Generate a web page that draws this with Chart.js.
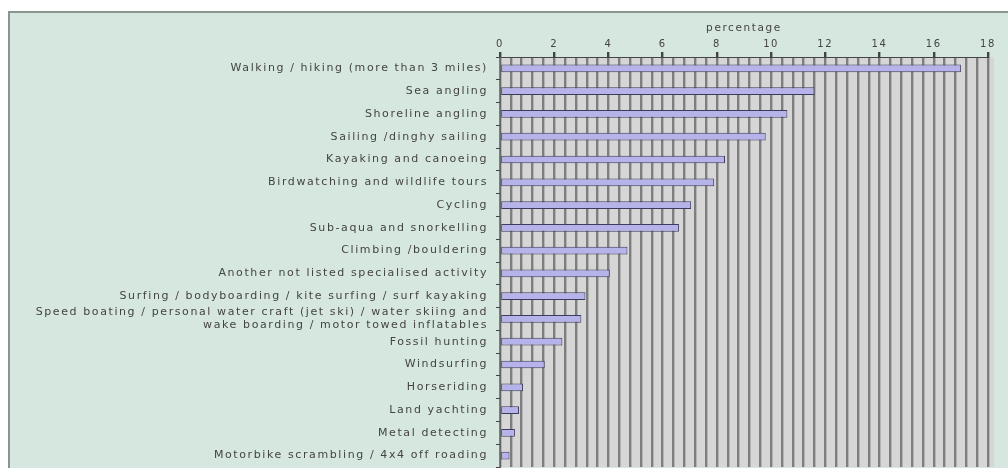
<!DOCTYPE html>
<html><head><meta charset="utf-8">
<script src="https://cdn.jsdelivr.net/npm/chart.js@4/dist/chart.umd.min.js"></script>
<style>
html,body{margin:0;padding:0;background:#fff;}
#wrap{position:absolute;left:0;top:0;width:1008px;height:468px;}
</style></head>
<body><div id="wrap"><canvas id="c" width="1008" height="468"></canvas></div>
<script>
const categories = [
  "Walking / hiking (more than 3 miles)",
  "Sea angling",
  "Shoreline angling",
  "Sailing /dinghy sailing",
  "Kayaking and canoeing",
  "Birdwatching and wildlife tours",
  "Cycling",
  "Sub-aqua and snorkelling",
  "Climbing /bouldering",
  "Another not listed specialised activity",
  "Surfing / bodyboarding / kite surfing / surf kayaking",
  ["Speed boating / personal water craft (jet ski) / water skiing and", "wake boarding / motor towed inflatables"],
  "Fossil hunting",
  "Windsurfing",
  "Horseriding",
  "Land yachting",
  "Metal detecting",
  "Motorbike scrambling / 4x4 off roading"
];
const percentages = [17.0, 11.6, 10.6, 9.8, 8.3, 7.9, 7.05, 6.6, 4.7, 4.05, 3.15, 3.0, 2.3, 1.65, 0.85, 0.7, 0.55, 0.35];
const axisTitle = "percentage";

const spacingPlugin = {
  id: 'spacing',
  beforeLayout(chart) { chart.ctx.letterSpacing = '1.6px'; },
  beforeDraw(chart) { chart.ctx.letterSpacing = '1.6px'; }
};

const bgPlugin = {
  id: 'bg',
  beforeDraw(chart) {
    const ctx = chart.ctx, a = chart.chartArea;
    ctx.save();
    ctx.fillStyle = '#d6e7df';
    ctx.fillRect(9, 12, chart.width - 9, chart.height - 12);
    ctx.strokeStyle = '#8c948f';
    ctx.lineWidth = 2;
    ctx.beginPath();
    ctx.moveTo(9, chart.height); ctx.lineTo(9, 12); ctx.lineTo(chart.width, 12);
    ctx.stroke();
    ctx.fillStyle = '#d6d6d6';
    ctx.fillRect(a.left, a.top, a.right - a.left + 6, a.bottom - a.top);
    ctx.restore();
  }
};

const isMajor = v => Math.abs(v / 2 - Math.round(v / 2)) < 1e-6;

new Chart(document.getElementById('c'), {
  type: 'bar',
  data: {
    labels: categories,
    datasets: [{
      data: percentages,
      backgroundColor: '#b6b2ea',
      borderColor: '#3c3c5c',
      borderWidth: 1,
      borderSkipped: false,
      categoryPercentage: 1,
      barPercentage: 0.34
    }]
  },
  options: {
    indexAxis: 'y',
    responsive: false,
    animation: false,
    devicePixelRatio: 1,
    layout: { padding: { left: 10, top: 12, right: 20, bottom: 1 } },
    plugins: { legend: { display: false }, tooltip: { enabled: false } },
    scales: {
      x: {
        position: 'top',
        min: 0, max: 18,
        ticks: {
          stepSize: 0.4,
          autoSkip: false,
          maxRotation: 0,
          color: '#444',
          font: { family: 'DejaVu Sans', size: 10 },
          padding: 2,
          callback: v => isMajor(v) ? String(Math.round(v)) : ''
        },
        grid: {
          color: '#7e7e7e',
          lineWidth: 2.4,
          tickLength: 5,
          tickColor: ctx => (ctx.tick && isMajor(ctx.tick.value)) ? '#444' : 'rgba(0,0,0,0)'
        },
        border: { display: true, color: '#444', width: 1 },
        title: {
          display: true, text: axisTitle, color: '#444',
          font: { family: 'DejaVu Sans', size: 10.5 }, padding: { top: 10, bottom: 0 }
        },
        afterFit: s => { s.height = 45; }
      },
      y: {
        ticks: {
          color: '#444',
          font: { family: 'DejaVu Sans', size: 11 },
          padding: 8,
          autoSkip: false
        },
        grid: { drawOnChartArea: false, tickLength: 4, color: '#444', offset: true },
        border: { display: true, color: '#666' },
        afterFit: s => { s.width = 490; s.paddingTop = 0; s.paddingBottom = 0; }
      }
    }
  },
  plugins: [spacingPlugin, bgPlugin]
});
</script>
</body></html>
